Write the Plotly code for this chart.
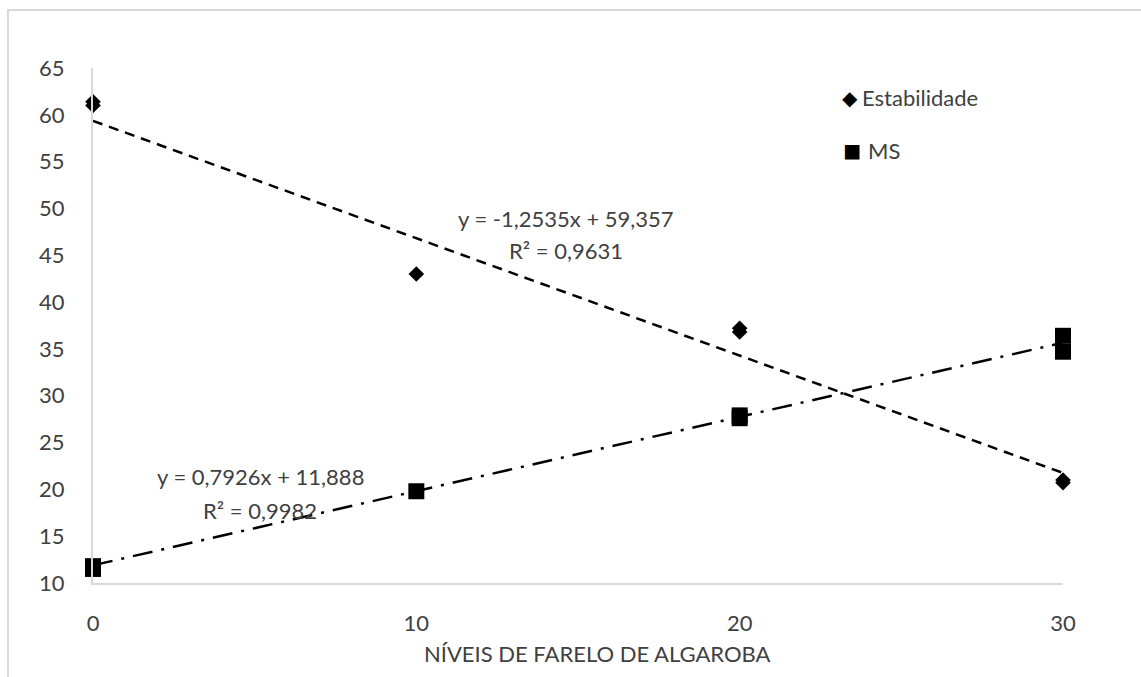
import plotly.graph_objects as go
import numpy as np

# ---- data ----
est_x = [0, 0, 10, 20, 20, 30, 30]
est_y = [61.0, 61.4, 43.0, 36.8, 37.2, 20.7, 21.0]
ms_x = [0, 0, 10, 20, 20, 30, 30]
ms_y = [11.5, 11.8, 19.8, 27.6, 27.9, 34.7, 36.4]
est_coef = (-1.2535, 59.357)
ms_coef = (0.7926, 11.888)
est_eq = ["y = -1,2535x + 59,357", "R² = 0,9631"]
ms_eq = ["y = 0,7926x + 11,888", "R² = 0,9982"]
x_ticks = [0, 10, 20, 30]
y_ticks = [10, 15, 20, 25, 30, 35, 40, 45, 50, 55, 60, 65]
x_title = "NÍVEIS DE FARELO DE ALGAROBA"

FONT = "Lato"
TXT = "#404040"
FS = 22

line_x = np.array([0, 30])
fig = go.Figure()
fig.add_trace(go.Scatter(x=line_x, y=est_coef[0] * line_x + est_coef[1], mode="lines",
                         line=dict(color="black", width=2.5, dash="10px,7px"),
                         showlegend=False, hoverinfo="skip", cliponaxis=False))
fig.add_trace(go.Scatter(x=line_x, y=ms_coef[0] * line_x + ms_coef[1], mode="lines",
                         line=dict(color="black", width=2.5, dash="20px,9px,3px,9px"),
                         showlegend=False, hoverinfo="skip", cliponaxis=False))
fig.add_trace(go.Scatter(x=est_x, y=est_y, mode="markers", name="Estabilidade",
                         marker=dict(symbol="diamond", size=12, color="black"),
                         showlegend=False, cliponaxis=False))
fig.add_trace(go.Scatter(x=ms_x, y=ms_y, mode="markers", name="MS",
                         marker=dict(symbol="square", size=16, color="black"),
                         showlegend=False, cliponaxis=False))

L, R, T, B = 93, 1063, 68, 583
W, H = 1141, 677
pw, ph = R - L, B - T

def px(xp):
    return (xp - L) / pw

def py(yp):
    return (B - yp) / ph

def text(xp, yp, s, size=FS, xanchor="center", color=TXT):
    return dict(x=px(xp), y=py(yp), xref="paper", yref="paper", text=s,
                xanchor=xanchor, yanchor="middle", showarrow=False, align="center",
                font=dict(family=FONT, size=size, color=color))

ann = [
    text(566, 218, est_eq[0]),
    text(566, 250, est_eq[1]),
    text(260, 476, ms_eq[0]),
    text(260, 510, ms_eq[1]),
    text(850, 97, "◆", size=20, color="black"),
    text(860, 97, "Estabilidade", xanchor="left"),
    text(852, 149, "■", size=30, color="black"),
    text(866, 150, "MS", xanchor="left"),
    text(597, 653, x_title),
]

fig.update_layout(
    width=W, height=H,
    margin=dict(l=L, r=W - R, t=T, b=H - B),
    paper_bgcolor="white", plot_bgcolor="white",
    annotations=ann,
    shapes=[dict(type="rect", xref="paper", yref="paper",
                 x0=px(8), x1=px(1160), y0=py(700), y1=py(10),
                 line=dict(color="#d9d9d9", width=2), layer="below")],
    xaxis=dict(range=[0, 30], tickvals=x_ticks, showgrid=False, zeroline=False,
               showline=True, linecolor="#d9d9d9", linewidth=2, ticks="",
               ticklabelstandoff=20,
               tickfont=dict(family=FONT, size=FS, color=TXT)),
    yaxis=dict(range=[10, 65], tickvals=y_ticks, showgrid=False, zeroline=False,
               showline=True, linecolor="#d9d9d9", linewidth=2, ticks="",
               ticklabelstandoff=22,
               tickfont=dict(family=FONT, size=FS, color=TXT)),
)
fig.write_html("out.html")
